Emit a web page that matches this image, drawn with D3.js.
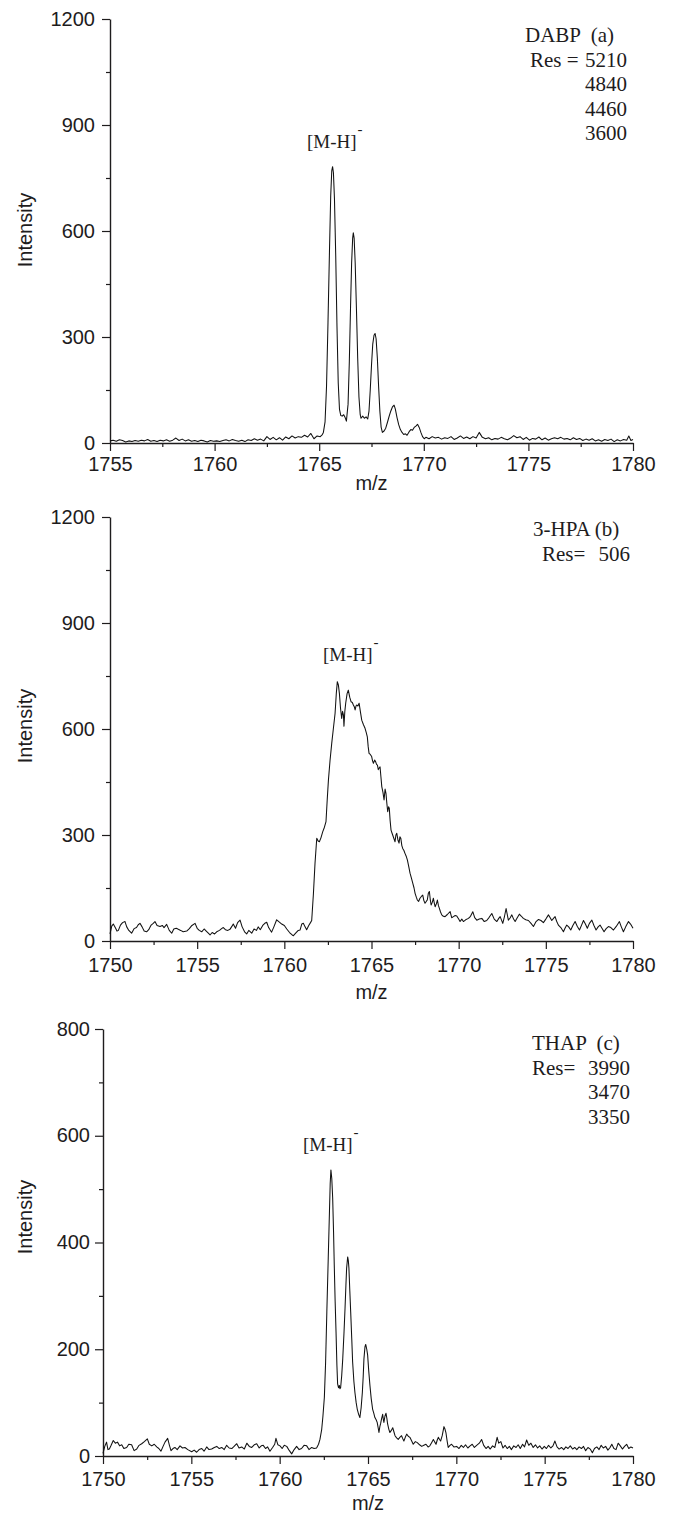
<!DOCTYPE html>
<html>
<head>
<meta charset="utf-8">
<title>[M-H]- mass spectra with DABP, 3-HPA and THAP matrices</title>
<script src="https://cdn.jsdelivr.net/npm/d3@7"></script>
<style>
  html, body { margin: 0; padding: 0; background: #ffffff; }
  svg { display: block; }
</style>
</head>
<body>
<script>
// ---------------------------------------------------------------
// Spectra: [m/z, intensity] pairs
// ---------------------------------------------------------------
const dabpSpectrum = [
  [1755.00,6],[1755.15,8],[1755.30,5],[1755.45,9],[1755.60,7],[1755.75,3],[1755.90,6],[1756.05,4],
  [1756.20,7],[1756.35,5],[1756.50,8],[1756.65,6],[1756.80,10],[1756.95,5],[1757.10,7],[1757.25,4],
  [1757.40,8],[1757.55,6],[1757.70,9],[1757.85,5],[1758.00,8],[1758.15,14],[1758.30,7],[1758.45,11],
  [1758.60,6],[1758.75,9],[1758.90,5],[1759.05,7],[1759.20,4],[1759.35,8],[1759.50,6],[1759.65,3],
  [1759.80,7],[1759.95,5],[1760.10,6],[1760.25,4],[1760.40,7],[1760.55,9],[1760.70,6],[1760.85,10],
  [1761.00,7],[1761.15,5],[1761.30,8],[1761.45,4],[1761.60,9],[1761.75,7],[1761.90,12],[1762.05,8],
  [1762.20,11],[1762.35,6],[1762.50,18],[1762.65,10],[1762.80,16],[1762.95,9],[1763.10,15],[1763.25,8],
  [1763.40,17],[1763.55,12],[1763.70,20],[1763.85,14],[1764.00,18],[1764.15,16],[1764.30,22],[1764.45,17],
  [1764.60,27],[1764.75,12],[1764.90,20],[1765.05,18],[1765.15,24],
  [1765.20,30],[1765.28,60],[1765.35,160],[1765.42,340],[1765.49,540],[1765.55,700],[1765.60,770],
  [1765.64,782],[1765.68,765],[1765.73,690],[1765.79,530],[1765.85,330],[1765.91,170],[1765.97,95],
  [1766.03,78],[1766.10,76],[1766.17,80],[1766.24,72],[1766.30,62],
  [1766.38,110],[1766.44,230],[1766.50,390],[1766.55,510],[1766.60,580],[1766.63,595],[1766.67,580],
  [1766.72,510],[1766.78,380],[1766.84,240],[1766.90,130],[1766.96,80],
  [1767.00,70],[1767.08,76],[1767.16,70],[1767.24,74],[1767.32,68],
  [1767.38,90],[1767.44,150],[1767.50,220],[1767.56,280],[1767.62,305],[1767.67,310],[1767.72,295],
  [1767.78,240],[1767.84,160],[1767.90,90],[1767.96,45],[1768.02,30],
  [1768.10,34],[1768.18,42],[1768.26,58],[1768.34,75],[1768.42,90],[1768.50,102],[1768.58,107],
  [1768.64,96],[1768.72,72],[1768.80,52],[1768.88,38],[1768.96,30],[1769.04,24],[1769.12,26],[1769.20,22],
  [1769.30,32],[1769.38,38],[1769.46,36],[1769.54,44],[1769.62,48],[1769.70,53],[1769.78,44],[1769.86,30],
  [1769.94,18],[1770.02,12],
  [1770.10,16],[1770.25,12],[1770.40,18],[1770.55,14],[1770.70,16],[1770.85,11],[1771.00,15],[1771.15,13],
  [1771.30,18],[1771.45,10],[1771.60,14],[1771.75,20],[1771.90,13],[1772.05,17],[1772.20,12],[1772.35,18],
  [1772.50,14],[1772.65,30],[1772.80,16],[1772.95,12],[1773.10,15],[1773.25,9],[1773.40,13],[1773.55,11],
  [1773.70,16],[1773.85,12],[1774.00,9],[1774.15,14],[1774.30,21],[1774.45,15],[1774.60,18],[1774.75,10],
  [1774.90,16],[1775.05,8],[1775.20,13],[1775.35,11],[1775.50,17],[1775.65,9],[1775.80,14],[1775.95,8],
  [1776.10,12],[1776.25,15],[1776.40,12],[1776.55,16],[1776.70,11],[1776.85,13],[1777.00,9],[1777.15,15],
  [1777.30,10],[1777.45,13],[1777.60,7],[1777.75,11],[1777.90,8],[1778.05,12],[1778.20,6],[1778.35,9],
  [1778.50,5],[1778.65,10],[1778.80,7],[1778.95,11],[1779.10,4],[1779.25,9],[1779.40,6],[1779.55,10],
  [1779.70,8],[1779.80,20],[1779.90,7],[1780.00,10]
];

const hpaSpectrum = [
  [1750.00,20],[1750.10,42],[1750.19,48],[1750.30,38],[1750.40,28],[1750.48,30],[1750.60,45],[1750.72,52],
  [1750.86,55],[1750.96,40],[1751.08,30],[1751.24,22],[1751.38,35],[1751.52,38],[1751.62,46],[1751.72,50],
  [1751.84,40],[1751.96,28],[1752.10,26],[1752.22,32],[1752.36,45],[1752.48,50],[1752.58,55],[1752.70,44],
  [1752.87,41],[1753.00,44],[1753.10,38],[1753.25,47],[1753.40,30],[1753.54,22],[1753.66,34],[1753.80,36],
  [1753.92,33],[1754.05,30],[1754.20,26],[1754.40,28],[1754.55,35],[1754.70,44],[1754.88,50],[1755.00,36],
  [1755.12,30],[1755.26,26],[1755.40,34],[1755.52,28],[1755.64,22],[1755.74,17],[1755.86,24],[1756.00,20],
  [1756.12,26],[1756.28,30],[1756.40,35],[1756.50,38],[1756.62,32],[1756.76,30],[1756.88,33],[1757.00,42],
  [1757.07,48],[1757.20,36],[1757.32,52],[1757.46,59],[1757.58,40],[1757.72,26],[1757.84,20],[1757.96,30],
  [1758.13,22],[1758.26,34],[1758.40,30],[1758.50,40],[1758.62,32],[1758.76,44],[1758.88,50],[1758.99,53],
  [1759.10,38],[1759.27,25],[1759.40,40],[1759.56,60],[1759.70,54],[1759.85,48],[1760.00,44],[1760.14,34],
  [1760.30,24],[1760.45,17],[1760.52,15],[1760.65,22],[1760.80,30],[1760.90,31],[1761.00,48],[1761.09,50],
  [1761.19,40],[1761.28,32],[1761.40,44],[1761.50,52],[1761.57,58],
  [1761.67,135],[1761.76,220],[1761.86,291],[1761.94,283],[1762.01,281],[1762.10,292],[1762.20,309],
  [1762.30,322],[1762.39,338],[1762.46,400],[1762.53,456],[1762.62,510],[1762.72,560],[1762.81,600],
  [1762.91,644],[1762.98,700],[1763.04,734],[1763.10,725],[1763.16,700],[1763.22,660],[1763.29,630],
  [1763.34,650],[1763.39,640],[1763.42,608],[1763.47,650],[1763.52,673],[1763.60,700],[1763.67,710],
  [1763.75,690],[1763.83,677],[1763.90,675],[1763.96,668],[1764.02,662],[1764.06,654],[1764.11,665],
  [1764.15,668],[1764.22,665],[1764.29,673],[1764.36,650],[1764.44,625],[1764.54,612],[1764.63,602],
  [1764.70,590],[1764.76,578],[1764.81,550],[1764.86,531],[1764.93,528],[1765.01,522],[1765.06,510],
  [1765.11,503],[1765.18,512],[1765.24,507],[1765.29,500],[1765.34,498],[1765.39,485],[1765.43,489],
  [1765.49,493],[1765.54,465],[1765.59,437],[1765.66,420],[1765.72,399],[1765.78,430],[1765.83,418],
  [1765.88,390],[1765.93,366],[1765.98,380],[1766.02,376],[1766.07,340],[1766.12,314],[1766.18,305],
  [1766.25,295],[1766.30,288],[1766.35,281],[1766.40,300],[1766.45,305],[1766.52,285],[1766.58,277],
  [1766.63,295],[1766.68,291],[1766.74,270],[1766.79,262],[1766.86,256],[1766.92,248],[1766.99,240],
  [1767.06,229],[1767.14,210],[1767.21,192],[1767.29,178],[1767.37,163],[1767.44,150],[1767.50,135],
  [1767.57,124],[1767.63,116],[1767.70,112],[1767.78,121],[1767.86,126],[1767.94,130],[1768.00,115],
  [1768.07,107],[1768.14,112],[1768.20,116],[1768.26,135],[1768.32,140],[1768.37,118],[1768.42,102],
  [1768.49,110],[1768.55,121],[1768.60,108],[1768.65,97],[1768.72,105],[1768.78,116],[1768.84,100],
  [1768.89,93],[1768.96,82],[1769.03,74],[1769.12,70],[1769.22,69],[1769.35,75],[1769.51,83],[1769.60,66],
  [1769.70,69],[1769.80,72],[1769.89,71],[1770.00,62],[1770.08,55],[1770.18,62],[1770.27,55],[1770.40,60],
  [1770.56,64],[1770.68,70],[1770.81,83],[1770.92,66],[1771.04,59],[1771.18,62],[1771.33,64],[1771.47,55],
  [1771.61,58],[1771.75,67],[1771.90,78],[1772.04,62],[1772.19,55],[1772.30,64],[1772.38,69],[1772.53,50],
  [1772.63,70],[1772.72,92],[1772.85,59],[1772.95,65],[1773.05,74],[1773.15,62],[1773.24,55],[1773.36,66],
  [1773.48,76],[1773.60,70],[1773.71,64],[1773.85,60],[1774.00,58],[1774.15,50],[1774.29,41],[1774.44,55],
  [1774.58,61],[1774.72,58],[1774.86,52],[1775.00,62],[1775.15,74],[1775.25,66],[1775.34,58],[1775.44,64],
  [1775.53,69],[1775.62,56],[1775.72,45],[1775.86,38],[1776.01,26],[1776.10,36],[1776.20,45],[1776.31,40],
  [1776.43,31],[1776.55,44],[1776.68,55],[1776.80,42],[1776.93,31],[1777.05,45],[1777.16,58],[1777.27,48],
  [1777.38,36],[1777.50,50],[1777.64,59],[1777.76,44],[1777.88,31],[1778.00,40],[1778.11,45],[1778.22,36],
  [1778.34,26],[1778.46,35],[1778.59,41],[1778.73,38],[1778.88,31],[1779.05,42],[1779.22,55],[1779.33,40],
  [1779.45,26],[1779.58,40],[1779.74,55],[1779.86,48],[1780.00,36]
];

const thapSpectrum = [
  [1750.00,5],[1750.10,18],[1750.20,26],[1750.28,12],[1750.36,13],[1750.46,20],[1750.58,29],[1750.70,24],
  [1750.82,26],[1750.94,19],[1751.06,21],[1751.18,14],[1751.34,16],[1751.46,22],[1751.62,21],[1751.76,10],
  [1751.91,13],[1752.04,20],[1752.19,23],[1752.34,27],[1752.51,32],[1752.62,22],[1752.76,19],[1752.90,22],
  [1753.04,17],[1753.16,14],[1753.28,9],[1753.40,18],[1753.51,26],[1753.66,33],[1753.76,20],[1753.85,10],
  [1753.96,14],[1754.07,16],[1754.20,12],[1754.36,19],[1754.50,15],[1754.64,16],[1754.80,12],[1755.02,8],
  [1755.16,11],[1755.30,7],[1755.44,12],[1755.59,14],[1755.72,9],[1755.87,17],[1756.00,12],[1756.15,13],
  [1756.30,16],[1756.44,18],[1756.58,14],[1756.72,16],[1756.86,12],[1757.00,20],[1757.14,15],[1757.29,14],
  [1757.42,18],[1757.57,23],[1757.70,15],[1757.85,17],[1758.00,13],[1758.14,24],[1758.28,18],[1758.42,16],
  [1758.56,21],[1758.70,23],[1758.84,15],[1758.96,19],[1759.07,20],[1759.20,14],[1759.32,17],[1759.45,9],
  [1759.60,16],[1759.72,22],[1759.79,33],[1759.90,21],[1760.02,19],[1760.14,14],[1760.26,20],[1760.40,18],
  [1760.55,10],[1760.68,4],[1760.82,12],[1760.96,18],[1761.10,12],[1761.24,14],[1761.38,20],[1761.53,19],
  [1761.66,12],[1761.81,16],[1761.95,14],[1762.09,15],[1762.20,22],[1762.28,31],[1762.38,50],[1762.45,75],
  [1762.53,110],[1762.60,175],[1762.67,270],[1762.75,371],[1762.82,460],[1762.86,510],[1762.90,536],
  [1762.95,520],[1763.00,484],[1763.05,420],[1763.09,358],[1763.14,290],[1763.19,233],[1763.24,170],
  [1763.28,135],[1763.33,128],[1763.38,132],[1763.41,126],[1763.45,128],[1763.51,150],[1763.57,182],
  [1763.64,230],[1763.70,277],[1763.75,320],[1763.79,352],[1763.85,373],[1763.89,365],[1763.92,352],
  [1763.97,310],[1764.02,270],[1764.08,220],[1764.13,176],[1764.20,140],[1764.26,119],[1764.33,100],
  [1764.39,88],[1764.47,78],[1764.54,72],[1764.61,90],[1764.68,119],[1764.73,150],[1764.77,182],
  [1764.83,205],[1764.87,209],[1764.93,200],[1764.98,189],[1765.04,160],[1765.11,132],[1765.18,108],
  [1765.26,88],[1765.33,80],[1765.39,72],[1765.46,68],[1765.52,63],[1765.58,52],[1765.62,44],[1765.67,55],
  [1765.71,60],[1765.77,70],[1765.83,78],[1765.87,68],[1765.90,63],[1765.96,75],[1766.02,80],[1766.07,70],
  [1766.11,60],[1766.18,50],[1766.24,44],[1766.32,48],[1766.40,53],[1766.47,45],[1766.53,38],[1766.62,34],
  [1766.71,31],[1766.80,35],[1766.90,38],[1766.96,33],[1767.03,28],[1767.11,35],[1767.19,41],[1767.28,37],
  [1767.37,35],[1767.46,29],[1767.56,22],[1767.68,27],[1767.79,25],[1767.92,21],[1768.04,18],[1768.16,20],
  [1768.28,22],[1768.40,17],[1768.50,19],[1768.60,25],[1768.70,31],[1768.78,26],[1768.85,22],[1768.92,30],
  [1768.98,35],[1769.05,31],[1769.11,28],[1769.20,38],[1769.30,55],[1769.36,50],[1769.41,44],[1769.48,28],
  [1769.54,16],[1769.64,20],[1769.73,22],[1769.86,17],[1770.02,18],[1770.15,14],[1770.28,20],[1770.40,16],
  [1770.52,21],[1770.65,15],[1770.78,19],[1770.90,22],[1771.02,16],[1771.15,20],[1771.30,24],[1771.43,31],
  [1771.55,20],[1771.68,14],[1771.80,18],[1771.92,13],[1772.05,19],[1772.18,16],[1772.31,35],[1772.40,24],
  [1772.52,27],[1772.64,15],[1772.76,20],[1772.88,14],[1773.00,18],[1773.12,12],[1773.25,19],[1773.38,16],
  [1773.50,21],[1773.62,14],[1773.75,22],[1773.86,17],[1773.98,30],[1774.10,20],[1774.22,24],[1774.35,16],
  [1774.48,21],[1774.60,15],[1774.72,19],[1774.85,13],[1774.98,18],[1775.10,14],[1775.22,20],[1775.35,15],
  [1775.47,19],[1775.58,28],[1775.70,17],[1775.82,13],[1775.95,16],[1776.08,12],[1776.20,17],[1776.32,14],
  [1776.45,19],[1776.58,13],[1776.70,16],[1776.82,12],[1776.95,17],[1777.08,14],[1777.20,18],[1777.32,10],
  [1777.45,16],[1777.58,13],[1777.70,6],[1777.82,14],[1777.95,17],[1778.08,12],[1778.20,20],[1778.32,15],
  [1778.45,18],[1778.58,11],[1778.70,16],[1778.80,22],[1778.92,14],[1779.04,12],[1779.16,24],[1779.28,19],
  [1779.40,13],[1779.52,18],[1779.64,22],[1779.76,14],[1779.88,17],[1780.00,15]
];

// Axis ticks
const mzTicksA = [1755, 1760, 1765, 1770, 1775, 1780];
const mzMinorA = [1757.5, 1762.5, 1767.5, 1772.5, 1777.5];
const mzTicksBC = [1750, 1755, 1760, 1765, 1770, 1775, 1780];
const mzMinorBC = [1752.5, 1757.5, 1762.5, 1767.5, 1772.5, 1777.5];
const intensityTicksAB = [0, 300, 600, 900, 1200];
const intensityMinorAB = [150, 450, 750, 1050];
const intensityTicksC = [0, 200, 400, 600, 800];
const intensityMinorC = [100, 300, 500, 700];

// Matrix headings and resolution values
const matrixHeadings = ["DABP  (a)", "3-HPA (b)", "THAP  (c)"];
const resLabels = ["Res =", "Res=", "Res="];
const resolutionsA = ["5210", "4840", "4460", "3600"];
const resolutionsB = ["506"];
const resolutionsC = ["3990", "3470", "3350"];

// ---------------------------------------------------------------
// Drawing
// ---------------------------------------------------------------
const W = 678, H = 1519;
const SANS = "'Liberation Sans', Arial, Helvetica, sans-serif";
const SERIF = "'Liberation Serif', 'Times New Roman', Times, serif";
const INK = "#1e1c1d";

const svg = d3.select("body").append("svg")
  .attr("width", W).attr("height", H)
  .attr("viewBox", `0 0 ${W} ${H}`);

const panels = [
  { data: dabpSpectrum, mzDomain: [1755, 1780], mzTicks: mzTicksA, mzMinor: mzMinorA,
    yMax: 1200, yTicks: intensityTicksAB, yMinor: intensityMinorAB,
    left: 110, right: 633, top: 19, bottom: 443, xLabelY: 28, yLabelPad: 15,
    titleY: 490, ylabY: 230,
    heading: matrixHeadings[0], resLabel: resLabels[0], res: resolutionsA,
    annoX: 525, resLeft: 530, resRight: 627, annoY: 42,
    ionX: 307, ionY: 148 },
  { data: hpaSpectrum, mzDomain: [1750, 1780], mzTicks: mzTicksBC, mzMinor: mzMinorBC,
    yMax: 1200, yTicks: intensityTicksAB, yMinor: intensityMinorAB,
    left: 110, right: 633, top: 517, bottom: 941, xLabelY: 31, yLabelPad: 15,
    titleY: 999, ylabY: 726,
    heading: matrixHeadings[1], resLabel: resLabels[1], res: resolutionsB,
    annoX: 533, resLeft: 542, resRight: 630, annoY: 536,
    ionX: 323, ionY: 661 },
  { data: thapSpectrum, mzDomain: [1750, 1780], mzTicks: mzTicksBC, mzMinor: mzMinorBC,
    yMax: 800, yTicks: intensityTicksC, yMinor: intensityMinorC,
    left: 103, right: 633, top: 1029, bottom: 1456, xLabelY: 30, yLabelPad: 13,
    titleY: 1510, ylabY: 1217,
    heading: matrixHeadings[2], resLabel: resLabels[2], res: resolutionsC,
    annoX: 532, resLeft: 532, resRight: 630, annoY: 1050,
    ionX: 303, ionY: 1151 }
];

function styleAxis(sel) {
  sel.select(".domain").attr("stroke", INK).attr("stroke-width", 1.4);
  sel.selectAll(".tick line").attr("stroke", INK).attr("stroke-width", 1.2);
  sel.selectAll("text").attr("font-family", SANS).attr("font-size", 20).attr("fill", INK);
}

panels.forEach(p => {
  const x = d3.scaleLinear().domain(p.mzDomain).range([p.left, p.right]);
  const y = d3.scaleLinear().domain([0, p.yMax]).range([p.bottom, p.top]);
  const g = svg.append("g");

  // minor ticks
  g.append("g")
    .attr("transform", `translate(0,${p.bottom})`)
    .call(d3.axisBottom(x).tickValues(p.mzMinor).tickSize(4).tickFormat(() => "").tickSizeOuter(0))
    .call(s => { s.select(".domain").remove(); s.selectAll("line").attr("stroke", INK).attr("stroke-width", 1.2); });
  g.append("g")
    .attr("transform", `translate(${p.left},0)`)
    .call(d3.axisLeft(y).tickValues(p.yMinor).tickSize(4).tickFormat(() => "").tickSizeOuter(0))
    .call(s => { s.select(".domain").remove(); s.selectAll("line").attr("stroke", INK).attr("stroke-width", 1.2); });

  // major axes
  const xAxis = g.append("g")
    .attr("transform", `translate(0,${p.bottom})`)
    .call(d3.axisBottom(x).tickValues(p.mzTicks).tickSize(8).tickSizeOuter(0).tickFormat(d3.format("d")))
    .call(styleAxis);
  xAxis.selectAll("text").attr("y", p.xLabelY).attr("dy", 0);

  const yAxis = g.append("g")
    .attr("transform", `translate(${p.left},0)`)
    .call(d3.axisLeft(y).tickValues(p.yTicks).tickSize(8).tickSizeOuter(0).tickFormat(d3.format("d")))
    .call(styleAxis);
  yAxis.selectAll("text").attr("x", -p.yLabelPad).attr("dy", "0.3em");

  // axis titles
  g.append("text")
    .attr("x", (p.left + p.right) / 2).attr("y", p.titleY)
    .attr("text-anchor", "middle")
    .attr("font-family", SANS).attr("font-size", 20).attr("fill", INK)
    .text("m/z");
  g.append("text")
    .attr("transform", `translate(32,${p.ylabY}) rotate(-90)`)
    .attr("text-anchor", "middle")
    .attr("font-family", SANS).attr("font-size", 20).attr("fill", INK)
    .text("Intensity");

  // spectrum trace
  const line = d3.line().x(d => x(d[0])).y(d => y(d[1])).curve(d3.curveLinear);
  g.append("path")
    .datum(p.data)
    .attr("d", line)
    .attr("fill", "none")
    .attr("stroke", "#111")
    .attr("stroke-width", 1.05)
    .attr("stroke-linejoin", "round");

  // [M-H]- ion label
  const ion = g.append("text")
    .attr("x", p.ionX).attr("y", p.ionY)
    .attr("font-family", SERIF).attr("font-size", 19).attr("fill", INK);
  ion.append("tspan").text("[M-H]");
  ion.append("tspan").attr("dy", -14).attr("dx", 1).attr("font-size", 15).text("-");

  // matrix heading and resolutions
  const anno = g.append("g")
    .attr("font-family", SERIF).attr("font-size", 21).attr("fill", INK);
  anno.append("text")
    .attr("x", p.annoX).attr("y", p.annoY)
    .attr("xml:space", "preserve").style("white-space", "pre")
    .text(p.heading);
  const lineGap = 24.5;
  anno.append("text").attr("x", p.resLeft).attr("y", p.annoY + lineGap).text(p.resLabel);
  p.res.forEach((r, i) => {
    anno.append("text")
      .attr("x", p.resRight).attr("y", p.annoY + lineGap * (i + 1))
      .attr("text-anchor", "end")
      .text(r);
  });
});
</script>
</body>
</html>
